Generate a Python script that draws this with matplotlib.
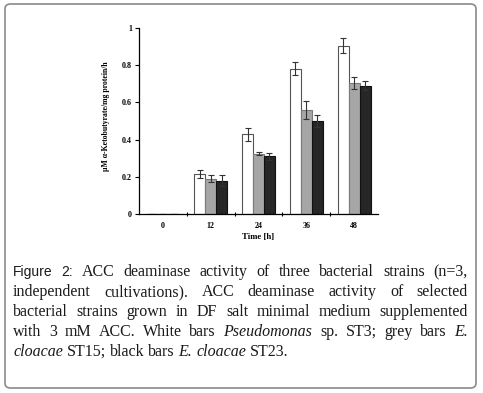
import matplotlib

matplotlib.use("Agg")
import matplotlib.pyplot as plt
import numpy as np
from matplotlib.patches import FancyBboxPatch

times = ["0", "12", "24", "36", "48"]
st3 = [0.0, 0.215, 0.43, 0.78, 0.905]
st3_err = [0.0, 0.02, 0.035, 0.035, 0.04]
st15 = [0.0, 0.19, 0.325, 0.56, 0.705]
st15_err = [0.0, 0.02, 0.01, 0.048, 0.033]
st23 = [0.0, 0.18, 0.31, 0.50, 0.69]
st23_err = [0.0, 0.028, 0.018, 0.033, 0.025]
yticks = [0, 0.2, 0.4, 0.6, 0.8, 1]
ytick_labels = ["0", "0.2", "0.4", "0.6", "0.8", "1"]

W, H = 483, 393
fig = plt.figure(figsize=(W / 100, H / 100), dpi=100)

# outer rounded frame
frame = FancyBboxPatch(
    (5 / W, 5 / H), 471 / W, 384 / H,
    boxstyle="round,pad=0,rounding_size=0.012",
    transform=fig.transFigure, fill=False, edgecolor="#8a8a8a", lw=1.2,
)
fig.patches.append(frame)

ax = fig.add_axes([139 / W, 179 / H, 239 / W, 186 / H])
x = np.arange(len(times))
w = 0.23
err_kw = dict(ecolor="#333333", elinewidth=0.8, capsize=2.2, capthick=0.8)
ax.bar(x - w, st3, w, yerr=st3_err, color="white", edgecolor="#555555", lw=0.8, error_kw=err_kw)
ax.bar(x, st15, w, yerr=st15_err, color="#a6a6a6", edgecolor="#7a7a7a", lw=0.8, error_kw=err_kw)
ax.bar(x + w, st23, w, yerr=st23_err, color="#262626", edgecolor="#111111", lw=0.8, error_kw=err_kw)

ax.set_xlim(-0.5, len(times) - 0.5)
ax.set_ylim(0, 1)
for s in ["top", "right"]:
    ax.spines[s].set_visible(False)
for s in ["left", "bottom"]:
    ax.spines[s].set_linewidth(0.9)

tick_font = dict(family="Liberation Serif", weight="bold", size=5.8)
ax.set_xticks(x)
ax.set_xticklabels(times, **tick_font)
ax.set_xticks(np.arange(0.5, len(times) - 0.5), minor=True)
ax.tick_params(axis="x", which="major", length=0, pad=6)
ax.tick_params(axis="x", which="minor", length=3, width=0.8, direction="inout")
ax.set_yticks(yticks)
ax.set_yticklabels(ytick_labels, **tick_font)
ax.tick_params(axis="y", length=3, width=0.8, pad=2)

fig.text(258 / W, 1 - 237 / H, "Time [h]", ha="center", va="center",
         family="Liberation Serif", weight="bold", size=6.3)
fig.text(106 / W, 1 - 116 / H, "μM α-Ketobutyrate/mg protein/h", ha="center", va="center",
         rotation=90, family="Liberation Serif", weight="bold", size=5.6)

# caption, justified by hand
SERIF = dict(family="Liberation Serif", size=11.5, color="#1a1a1a")
ITAL = dict(family="Liberation Serif", size=11.5, style="italic", color="#1a1a1a")
SANS = dict(family="Liberation Sans", size=10, color="#1a1a1a")

caption = [
    [("Figure", SANS), ("2:", SANS), ("ACC", SERIF), ("deaminase", SERIF), ("activity", SERIF),
     ("of", SERIF), ("three", SERIF), ("bacterial", SERIF), ("strains", SERIF), ("(n=3,", SERIF)],
    [(t, SERIF) for t in "independent cultivations). ACC deaminase activity of selected".split()],
    [(t, SERIF) for t in "bacterial strains grown in DF salt minimal medium supplemented".split()],
    [(t, SERIF) for t in "with 3 mM ACC. White bars".split()] + [("Pseudomonas", ITAL)]
    + [(t, SERIF) for t in "sp. ST3; grey bars".split()] + [("E.", ITAL)],
    [("cloacae", ITAL), ("ST15;", SERIF), ("black", SERIF), ("bars", SERIF), ("E.", ITAL),
     ("cloacae", ITAL), ("ST23.", SERIF)],
]

renderer = fig.canvas.get_renderer()
x0, x1 = 13, 468
base = 276
for i, line in enumerate(caption):
    texts = [fig.text(0, 0, t, ha="left", va="baseline", **p) for t, p in line]
    widths = [t.get_window_extent(renderer).width for t in texts]
    if i < len(caption) - 1:
        gap = (x1 - x0 - sum(widths)) / (len(texts) - 1)
    else:
        gap = 3.8
    xpos = x0
    for t, wd in zip(texts, widths):
        t.set_position((xpos / W, 1 - (base + 20 * i) / H))
        xpos += wd + gap

fig.savefig("out.png", dpi=100)
